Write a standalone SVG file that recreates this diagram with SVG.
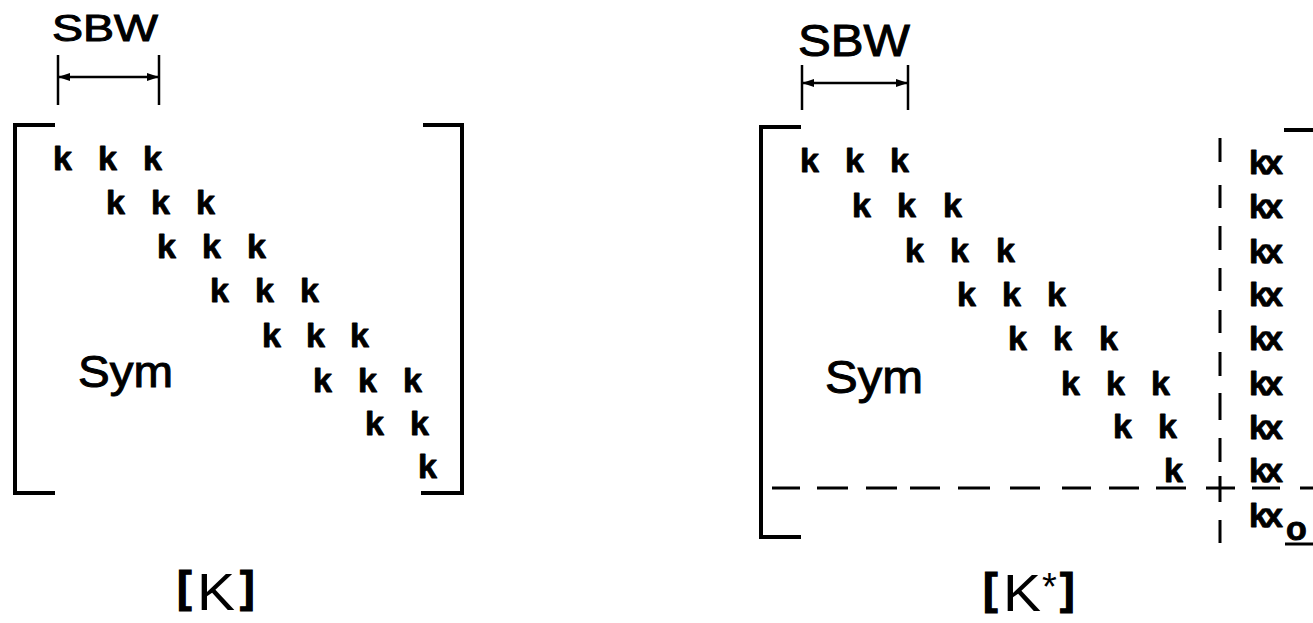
<svg xmlns="http://www.w3.org/2000/svg" width="1313" height="623" viewBox="0 0 1313 623">
<style>
.k{font-family:"Liberation Sans",Arial,sans-serif;font-weight:bold;font-size:34px;fill:#000;stroke:#000;stroke-width:0.9;stroke-linejoin:round}
.kx{font-family:"Liberation Sans",Arial,sans-serif;font-weight:bold;font-size:34px;letter-spacing:-4px;fill:#000;stroke:#000;stroke-width:0.9;stroke-linejoin:round}
.lbl{font-family:"Liberation Sans",Arial,sans-serif;fill:#000;stroke:#000;stroke-width:1}
.ttl{font-family:"Liberation Sans",Arial,sans-serif;fill:#000}
.brk{font-weight:bold;font-size:44px;stroke:#000;stroke-width:1.2}
.br{fill:none;stroke:#000;stroke-width:4;stroke-linecap:square}
.dim{fill:none;stroke:#000;stroke-width:2.5}
.dash{fill:none;stroke:#000;stroke-width:3}
</style>
<defs>
<marker id="ah" viewBox="0 0 12 8" refX="12" refY="4" markerWidth="14" markerHeight="8" markerUnits="userSpaceOnUse" orient="auto-start-reverse">
<path d="M0,0 L12,4 L0,8 z" fill="#000"/>
</marker>
</defs>
<rect width="1313" height="623" fill="#fff"/>

<g id="matrixK">
<g id="K-sbw">
<text class="lbl" x="52" y="41" font-size="37" textLength="106" lengthAdjust="spacingAndGlyphs">SBW</text>
<line class="dim" x1="58" y1="55" x2="58" y2="105"/>
<line class="dim" x1="159" y1="55" x2="159" y2="105"/>
</g>
<g id="K-bracket">
<path class="br" d="M53,125 L15,125 L15,493 L53,493"/>
<path class="br" d="M425,125 L462,125 L462,493 L423,493"/>
</g>
<g id="K-entries">
<text class="k" x="53 98 143" y="170">kkk</text>
<text class="k" x="106 151 196" y="214">kkk</text>
<text class="k" x="157 202 247" y="258">kkk</text>
<text class="k" x="210 255 300" y="302">kkk</text>
<text class="k" x="262 306 350" y="347">kkk</text>
<text class="k" x="313 358 403" y="392">kkk</text>
<text class="k" x="365 410" y="435">kk</text>
<text class="k" x="418" y="478">k</text>
<text class="lbl" x="78" y="387" font-size="45" textLength="95" lengthAdjust="spacingAndGlyphs">Sym</text>
</g>
<text id="K-title" class="ttl"><tspan class="brk" x="177" y="602">[</tspan><tspan x="197" y="610" font-size="52" textLength="38" lengthAdjust="spacingAndGlyphs">K</tspan><tspan class="brk" x="240" y="602">]</tspan></text>
</g>

<g id="matrixKstar">
<g id="Ks-sbw">
<text class="lbl" x="798" y="56" font-size="45" textLength="112" lengthAdjust="spacingAndGlyphs">SBW</text>
<line class="dim" x1="802" y1="65" x2="802" y2="110"/>
<line class="dim" x1="908" y1="65" x2="908" y2="110"/>
</g>
<g id="Ks-bracket">
<path class="br" d="M799,127 L761,127 L761,537 L799,537"/>
<path class="br" d="M1286,130 L1315,130"/>
</g>
<g id="Ks-entries">
<text class="k" x="800 845 890" y="172">kkk</text>
<text class="k" x="852 897 943" y="217">kkk</text>
<text class="k" x="905 950 996" y="262">kkk</text>
<text class="k" x="957 1002 1047" y="306">kkk</text>
<text class="k" x="1008 1053 1099" y="350">kkk</text>
<text class="k" x="1061 1106 1151" y="395">kkk</text>
<text class="k" x="1113 1158" y="438">kk</text>
<text class="k" x="1164" y="482">k</text>
<text class="lbl" x="825" y="393" font-size="46" textLength="98" lengthAdjust="spacingAndGlyphs">Sym</text>
</g>
<g id="Ks-column">
<text class="kx" x="1249" y="174">kx</text>
<text class="kx" x="1249" y="218">kx</text>
<text class="kx" x="1249" y="263">kx</text>
<text class="kx" x="1249" y="306">kx</text>
<text class="kx" x="1249" y="350">kx</text>
<text class="kx" x="1249" y="395">kx</text>
<text class="kx" x="1249" y="439">kx</text>
<text class="kx" x="1249" y="482">kx</text>
<text class="kx" x="1249" y="527">kx</text>
<text class="k" x="1286" y="540">o</text>
<line class="dash" x1="1285" y1="544" x2="1313" y2="544"/>
</g>
<g id="Ks-partition">
<path class="dash" d="M1220,138 V162 M1220,185 V208 M1220,226 V250 M1220,268 V291 M1220,310 V333 M1220,352 V376 M1220,393 V420 M1220,438 V462 M1220,476 V502 M1220,520 V543"/>
<path class="dash" d="M772,488 H800 M817,488 H848 M866,488 H897 M910,488 H940 M958,488 H990 M1010,488 H1040 M1062,488 H1091 M1109,488 H1139 M1156,488 H1186 M1206,488 H1235 M1252,488 H1280 M1300,488 H1313"/>
</g>
<text id="Ks-title" class="ttl"><tspan class="brk" x="983" y="604">[</tspan><tspan x="1003" y="611" font-size="52" textLength="38" lengthAdjust="spacingAndGlyphs">K</tspan><tspan x="1042" y="600" font-size="38">*</tspan><tspan class="brk" x="1060" y="604">]</tspan></text>
</g>

<g id="connectors">
<line class="dim" x1="58" y1="77" x2="159" y2="77" marker-start="url(#ah)" marker-end="url(#ah)"/>
<line class="dim" x1="802" y1="83" x2="908" y2="83" marker-start="url(#ah)" marker-end="url(#ah)"/>
</g>
</svg>
